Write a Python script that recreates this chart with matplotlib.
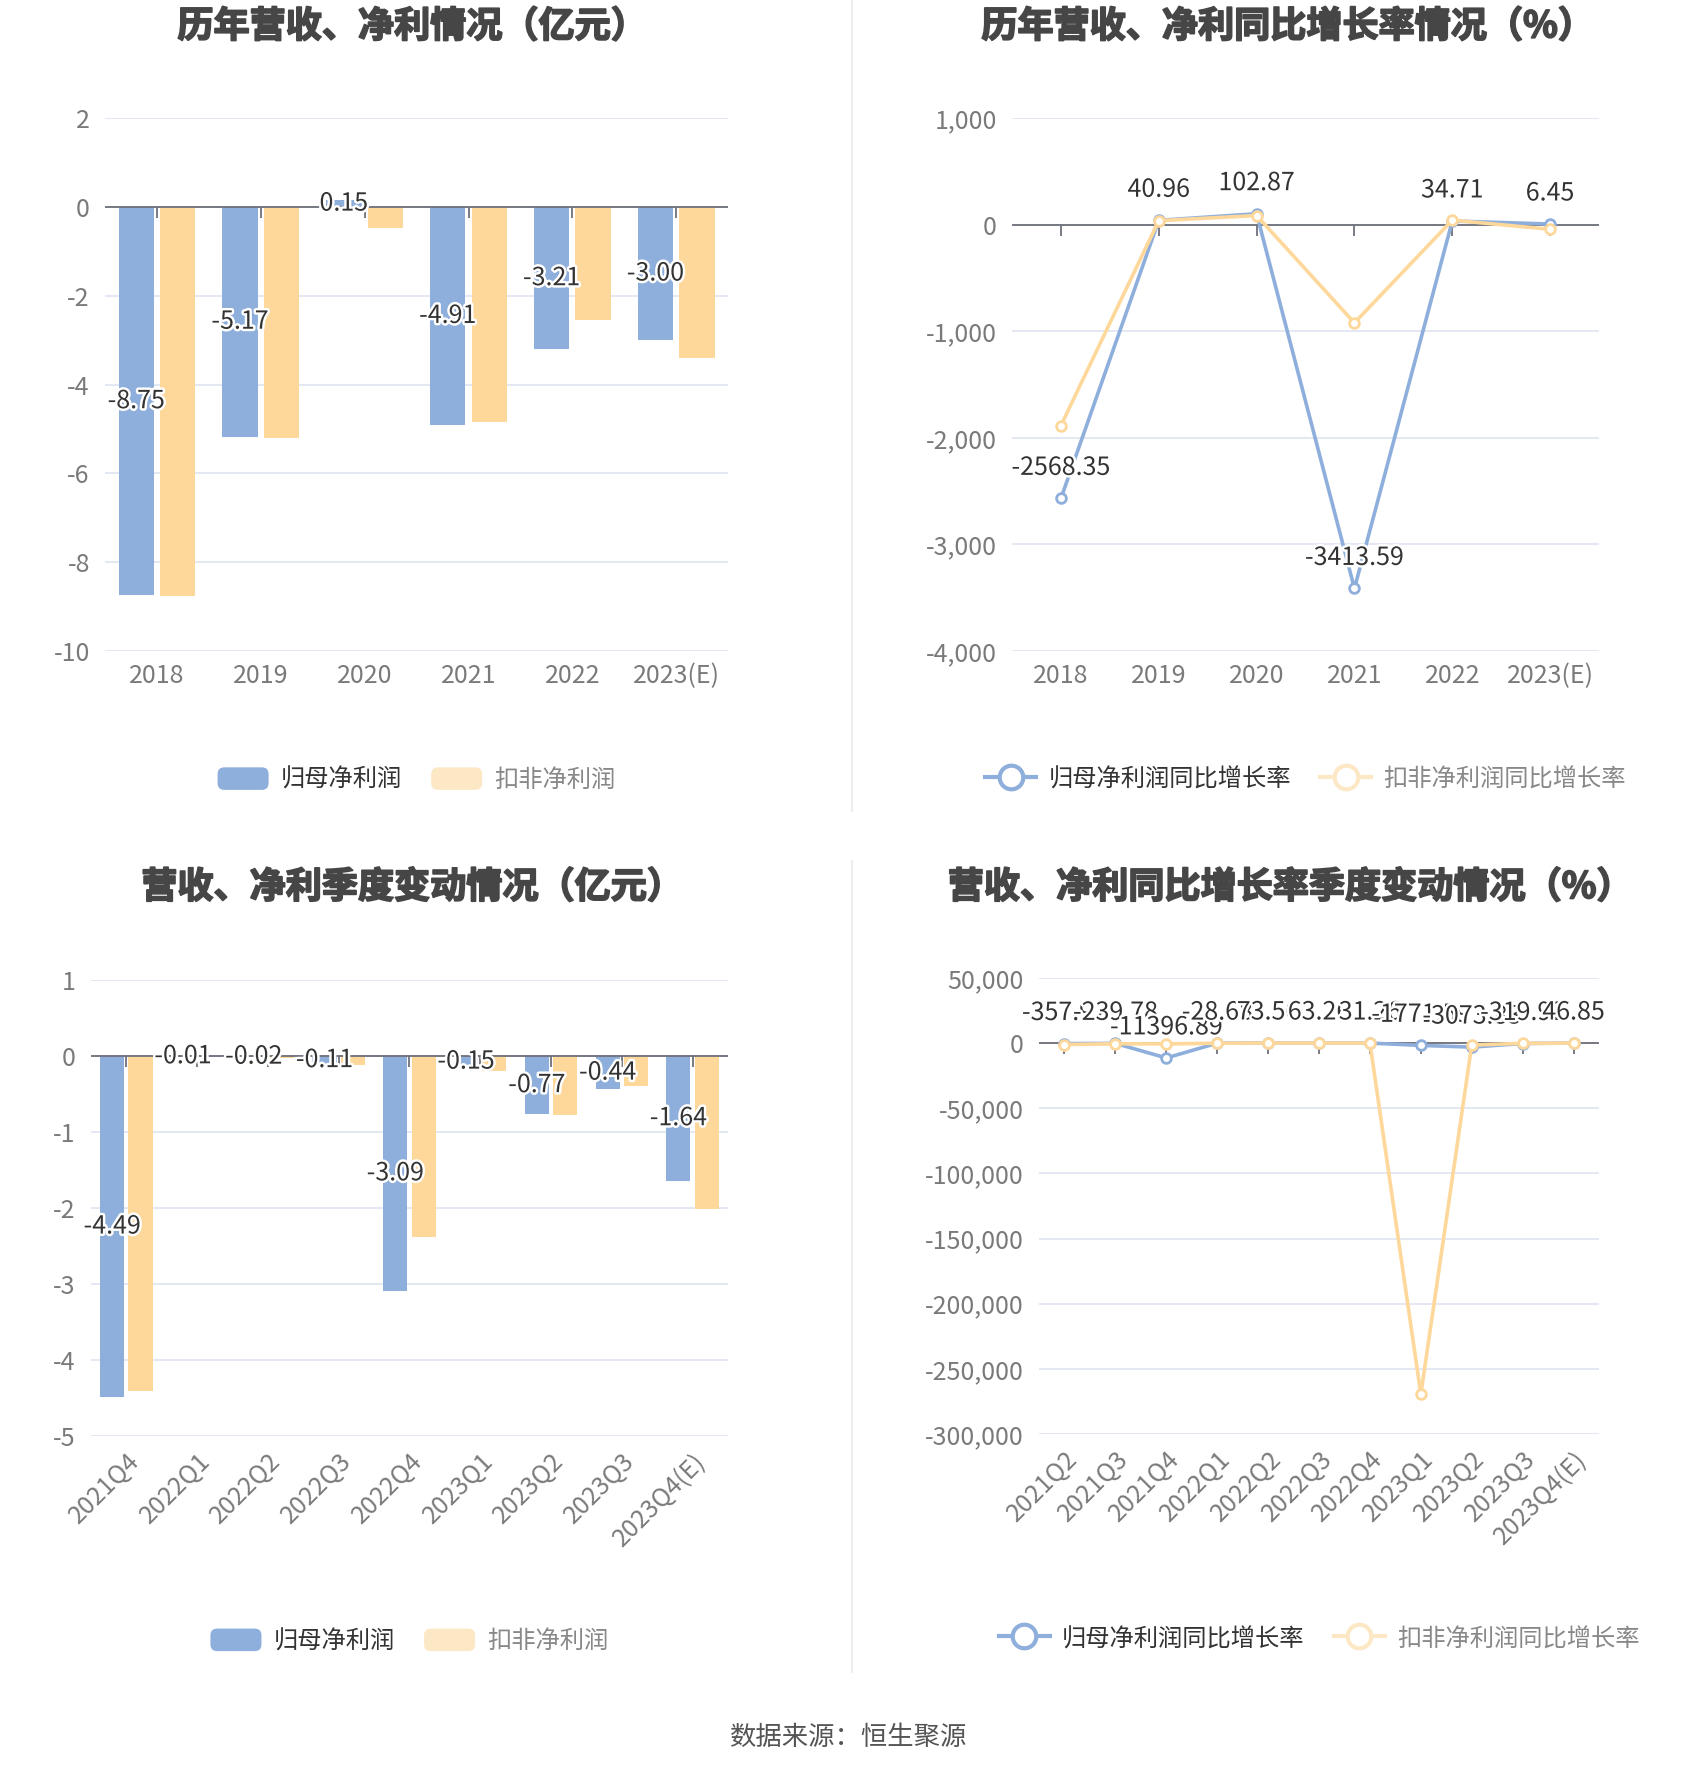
import matplotlib
matplotlib.use('Agg')
import matplotlib.pyplot as plt
import matplotlib.patches as mpatches
import matplotlib.patheffects as pe
from matplotlib.legend_handler import HandlerPatch
from matplotlib.lines import Line2D
from matplotlib.markers import TICKDOWN
import numpy as np

plt.rcParams['font.family'] = ['Noto Sans CJK SC', 'DejaVu Sans']
plt.rcParams['axes.unicode_minus'] = False

# ---- data ----
years = ['2018', '2019', '2020', '2021', '2022', '2023(E)']
np_year = [-8.75, -5.17, 0.15, -4.91, -3.21, -3.00]
kf_year = [-8.76, -5.20, -0.48, -4.85, -2.55, -3.40]

np_year_yoy = [-2568.35, 40.96, 102.87, -3413.59, 34.71, 6.45]
kf_year_yoy = [-1885, 38, 86, -921, 43, -43]

quarters = ['2021Q4', '2022Q1', '2022Q2', '2022Q3', '2022Q4',
            '2023Q1', '2023Q2', '2023Q3', '2023Q4(E)']
np_q = [-4.49, -0.01, -0.02, -0.11, -3.09, -0.15, -0.77, -0.44, -1.64]
kf_q = [-4.41, 0.0, -0.03, -0.12, -2.38, -0.20, -0.78, -0.39, -2.02]

quarters_yoy = ['2021Q2', '2021Q3', '2021Q4', '2022Q1', '2022Q2', '2022Q3',
                '2022Q4', '2023Q1', '2023Q2', '2023Q3', '2023Q4(E)']
np_q_yoy = [-357.92, -239.78, -11396.89, -28.68, 73.56, 63.26, 31.26,
            -1771.59, -3073.83, -319.92, 46.85]
kf_q_yoy = [-1100, -500, -600, -100, 50, 40, 20, -269500, -1500, -200, 30]

BLUE = '#8eaedb'
YELLOW = '#fed89b'
YELLOW_LIGHT = '#fde8c6'
GRID = '#e0e6f1'
AXIS = '#6e7079'
LABEL = '#7a7a7a'
TITLE = '#464646'

fig = plt.figure(figsize=(17, 17.82), dpi=100)

stroke = [pe.withStroke(linewidth=3.5, foreground='white')]


class RoundPatch(HandlerPatch):
    # rounded legend swatch
    def create_artists(self, legend, orig_handle, xdescent, ydescent,
                       width, height, fontsize, trans):
        p = mpatches.FancyBboxPatch(
            (-xdescent, -ydescent), width, height,
            boxstyle='round,pad=0,rounding_size=%f' % (height * 0.3),
            facecolor=orig_handle.get_facecolor(), edgecolor='none',
            transform=trans)
        return [p]


def style_axes(ax, ylim, yticks, cats, rot=0, fmt=None):
    ax.set_ylim(*ylim)
    ax.set_xlim(-0.5, len(cats) - 0.5)
    for s in ax.spines.values():
        s.set_visible(False)
    ax.set_yticks(yticks)
    if fmt:
        ax.set_yticklabels([fmt(v) for v in yticks])
    ax.tick_params(axis='y', length=0, labelsize=18, labelcolor=LABEL, pad=11)
    ax.tick_params(axis='x', length=0, labelsize=18, labelcolor=LABEL, pad=9)
    ax.set_xticks(range(len(cats)))
    if rot:
        ax.set_xticklabels(cats, rotation=rot, ha='right', va='top',
                           rotation_mode='anchor')
    else:
        ax.set_xticklabels(cats)
    ax.grid(axis='y', color=GRID, linewidth=1.3)
    ax.set_axisbelow(True)
    ax.axhline(0, color=AXIS, linewidth=1.3, zorder=3)
    ax.plot(range(len(cats)), [0] * len(cats), linestyle='none',
            marker=TICKDOWN, markersize=8, color=AXIS, mew=1.3, zorder=3)


def bar_panel(ax, cats, a, b, ylim, yticks, rot=0):
    x = np.arange(len(cats))
    w = 0.34
    ax.bar(x - 0.2, a, w, color=BLUE, zorder=2)
    ax.bar(x + 0.2, b, w, color=YELLOW, zorder=2)
    style_axes(ax, ylim, yticks, cats, rot)
    for xi, v in zip(x, a):
        ax.text(xi - 0.2, v / 2, '%.2f' % v, ha='center', va='center',
                fontsize=18, color='#333333', path_effects=stroke, zorder=5)
    h = [mpatches.Patch(color=BLUE), mpatches.Patch(color=YELLOW_LIGHT)]
    return h, ['归母净利润', '扣非净利润']


def line_panel(ax, cats, a, b, ylim, yticks, rot=0):
    x = np.arange(len(cats))
    ax.plot(x, a, color=BLUE, lw=2.6, marker='o', markersize=7,
            markerfacecolor='white', markeredgewidth=2, zorder=4)
    ax.plot(x, b, color=YELLOW, lw=2.6, marker='o', markersize=7,
            markerfacecolor='white', markeredgewidth=2, zorder=4)
    style_axes(ax, ylim, yticks, cats, rot, fmt=lambda v: format(int(v), ','))
    for xi, v in zip(x, a):
        ax.annotate('%.2f' % v, (xi, v), xytext=(0, 22), textcoords='offset points',
                    ha='center', va='center', fontsize=18, color='#333333',
                    path_effects=stroke, zorder=6)
    h = [Line2D([], [], color=BLUE, lw=3, marker='o', markersize=17,
                markerfacecolor='white', markeredgewidth=3),
         Line2D([], [], color=YELLOW_LIGHT, lw=3, marker='o', markersize=17,
                markerfacecolor='white', markeredgewidth=3)]
    return h, ['归母净利润同比增长率', '扣非净利润同比增长率']


def add_legend(ax, handles, labels, y):
    leg = ax.legend(handles, labels, loc='center', bbox_to_anchor=(0.5, y),
                    ncol=2, frameon=False, fontsize=17.5, handlelength=2.1,
                    handleheight=1.05, columnspacing=1.2, handletextpad=0.5,
                    handler_map={mpatches.Patch: RoundPatch()})
    leg.get_texts()[0].set_color('#333333')
    leg.get_texts()[1].set_color('#888888')


ax1 = fig.add_axes([0.0618, 0.6347, 0.3665, 0.299])
h, l = bar_panel(ax1, years, np_year, kf_year, (-10, 2), range(-10, 3, 2))
add_legend(ax1, h, l, -0.242)

ax2 = fig.add_axes([0.5953, 0.6347, 0.3453, 0.299])
h, l = line_panel(ax2, years, np_year_yoy, kf_year_yoy, (-4000, 1000),
                  range(-4000, 1001, 1000))
add_legend(ax2, h, l, -0.242)

ax3 = fig.add_axes([0.0535, 0.1942, 0.3747, 0.2559])
h, l = bar_panel(ax3, quarters, np_q, kf_q, (-5, 1), range(-5, 2), rot=45)
add_legend(ax3, h, l, -0.45)

ax4 = fig.add_axes([0.6112, 0.1953, 0.3294, 0.2559])
h, l = line_panel(ax4, quarters_yoy, np_q_yoy, kf_q_yoy, (-300000, 50000),
                  range(-300000, 50001, 50000), rot=45)
add_legend(ax4, h, l, -0.45)

# titles (thin stroke to get the heavy look)
title_kw = dict(ha='center', va='center', fontsize=26, fontweight='bold', color=TITLE,
                path_effects=[pe.withStroke(linewidth=1.3, foreground=TITLE)])
fig.text(0.2425, 0.985, '历年营收、净利情况（亿元）', **title_kw)
fig.text(0.7575, 0.985, '历年营收、净利同比增长率情况（%）', **title_kw)
fig.text(0.2425, 0.502, '营收、净利季度变动情况（亿元）', **title_kw)
fig.text(0.759, 0.502, '营收、净利同比增长率季度变动情况（%）', **title_kw)

# dividers
fig.add_artist(Line2D([0.501, 0.501], [1.0, 0.545], color='#eeeeee', lw=1.5))
fig.add_artist(Line2D([0.501, 0.501], [0.517, 0.062], color='#eeeeee', lw=1.5))

fig.text(0.499, 0.025, '数据来源：恒生聚源', ha='center', va='center',
         fontsize=19, color='#555555')

fig.savefig('out.png', dpi=100, facecolor='white')
